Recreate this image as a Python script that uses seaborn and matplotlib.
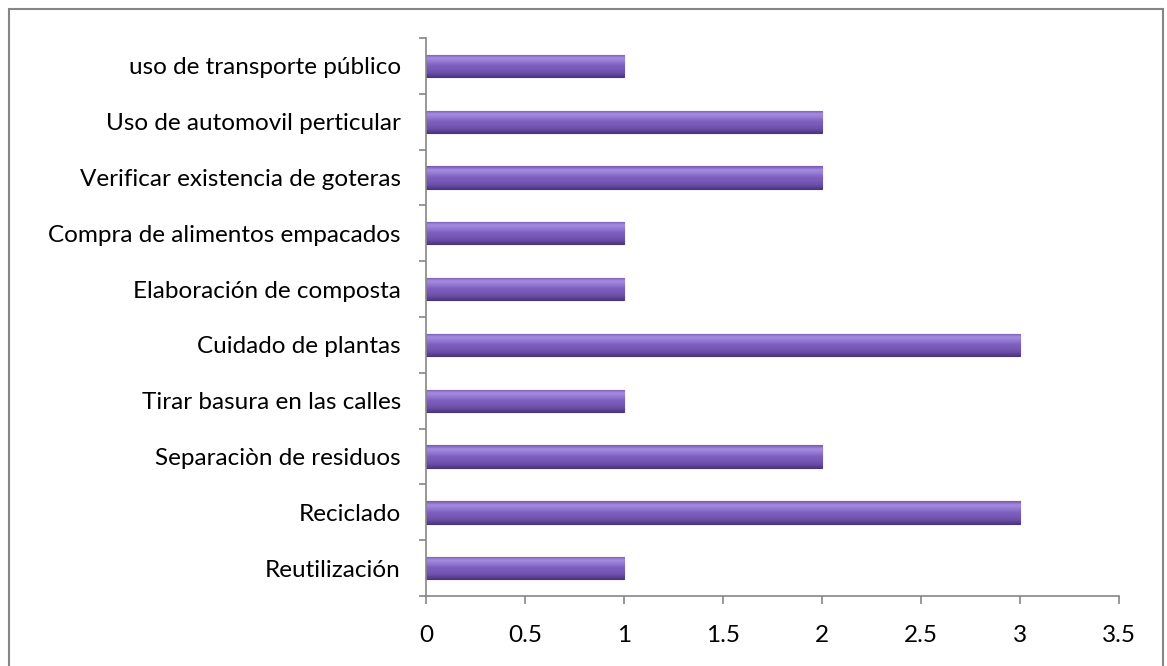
import numpy as np
import pandas as pd
import matplotlib
matplotlib.use("Agg")
import matplotlib.pyplot as plt
from matplotlib.colors import LinearSegmentedColormap
from matplotlib.patches import Rectangle
import seaborn as sns

# data (top to bottom as shown)
categories = [
    "uso de transporte público",
    "Uso de automovil perticular",
    "Verificar existencia de goteras",
    "Compra de alimentos empacados",
    "Elaboración de composta",
    "Cuidado de plantas",
    "Tirar basura en las calles",
    "Separaciòn de residuos",
    "Reciclado",
    "Reutilización",
]
values = [1, 2, 2, 1, 1, 3, 1, 2, 3, 1]
x_ticks = [0, 0.5, 1, 1.5, 2, 2.5, 3, 3.5]
x_ticklabels = ["0", "0.5", "1", "1.5", "2", "2.5", "3", "3.5"]

df = pd.DataFrame({"accion": categories, "valor": values})

sns.set_style("white")
plt.rcParams["font.family"] = ["Lato", "DejaVu Sans"]

fig = plt.figure(figsize=(11.67, 6.66), dpi=100)
ax = fig.add_axes([0.365, 0.105, 0.594, 0.838])

sns.barplot(data=df, x="valor", y="accion", orient="h", color="#7B5DBA",
            width=0.4, edgecolor="#4B3478", linewidth=0.8, ax=ax)

# shaded look like the original bars (top -> bottom)
shade = LinearSegmentedColormap.from_list(
    "shade", ["#7458b4", "#a58de0", "#9278d2", "#7d60bd", "#7759b6", "#6a4ea6", "#4e3880"])
grad = np.linspace(0, 1, 64).reshape(-1, 1)
for p in ax.patches:
    x0, y0 = p.get_x(), p.get_y()
    w, h = p.get_width(), p.get_height()
    im = ax.imshow(grad, cmap=shade, aspect="auto", zorder=p.get_zorder() + 0.1,
                   extent=(x0, x0 + w, y0 + h, y0), origin="upper")
    im.set_clip_path(p)

ax.set_xlim(0, 3.5)
ax.set_ylim(len(categories) - 0.5, -0.5)
ax.set_xticks(x_ticks)
ax.set_xticklabels(x_ticklabels)
ax.set_xlabel("")
ax.set_ylabel("")

# y ticks sit between categories
ax.set_yticks(np.arange(-0.5, len(categories), 1), minor=True)
ax.tick_params(axis="y", which="major", length=0, pad=18, labelsize=17.5, colors="black")
ax.tick_params(axis="y", which="minor", length=5, width=1.2, color="#868686", left=True)
ax.tick_params(axis="x", which="major", length=6, width=1.2, color="#868686",
               bottom=True, pad=15, labelsize=17.5, labelcolor="black")

for s in ["top", "right"]:
    ax.spines[s].set_visible(False)
for s in ["left", "bottom"]:
    ax.spines[s].set_color("#868686")
    ax.spines[s].set_linewidth(1.2)

# outer chart border
fig.patches.append(Rectangle((9 / 1167, -0.05), 1154 / 1167, 1 - 9 / 666 + 0.05,
                             transform=fig.transFigure, fill=False,
                             edgecolor="#868686", linewidth=1.5))

fig.savefig("out.png", dpi=100)
